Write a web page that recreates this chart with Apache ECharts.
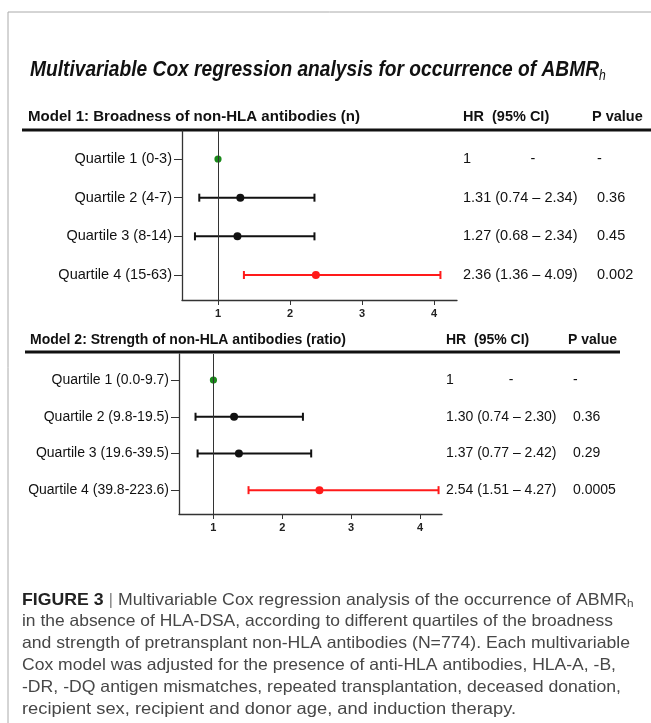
<!DOCTYPE html>
<html>
<head>
<meta charset="utf-8">
<script src="https://cdn.jsdelivr.net/npm/echarts@6/dist/echarts.min.js"></script>
<style>
  html, body { margin: 0; padding: 0; background: #fff; }
  #main { width: 651px; height: 723px; }
</style>
</head>
<body>
<div id="main"></div>
<script>
// ---- data ----
const labels1 = ['Quartile 1 (0-3)', 'Quartile 2 (4-7)', 'Quartile 3 (8-14)', 'Quartile 4 (15-63)'];
const hr1 = [1, 1.31, 1.27, 2.36];
const lo1 = [null, 0.74, 0.68, 1.36];
const hi1 = [null, 2.34, 2.34, 4.09];
const p1 = ['-', '0.36', '0.45', '0.002'];

const labels2 = ['Quartile 1 (0.0-9.7)', 'Quartile 2 (9.8-19.5)', 'Quartile 3 (19.6-39.5)', 'Quartile 4 (39.8-223.6)'];
const hr2 = [1, 1.30, 1.37, 2.54];
const lo2 = [null, 0.74, 0.77, 1.51];
const hi2 = [null, 2.30, 2.42, 4.27];
const p2 = ['-', '0.36', '0.29', '0.0005'];

const xTicks = [1, 2, 3, 4];
const rowColors = ['#1a8a1a', '#111', '#111', '#ff1a1a'];

const FAMILY = "'Liberation Sans', Arial, Helvetica, sans-serif";

// measure text so narrow/condensed type can be squeezed to the original widths
const ctx = document.createElement('canvas').getContext('2d');
function textWidth(t, size, weight, style) {
    ctx.font = (style || 'normal') + ' ' + (weight || 'normal') + ' ' + size + 'px ' + FAMILY;
    return ctx.measureText(t).width;
}

function fittedRuns(runs, x0, y, width) {
    let total = 0;
    runs.forEach(r => { if (!r.sub) total += textWidth(r.text, r.size, r.weight, r.style); });
    const sx = width / total;
    let x = x0;
    return runs.map(r => {
        const w = textWidth(r.text, r.size, r.weight, r.style);
        const el = {
            type: 'text', x: x, y: y + (r.dy || 0), scaleX: sx, silent: true,
            style: {
                text: r.text, x: 0, y: 0, fontSize: r.size, fontWeight: r.weight || 'normal',
                fontStyle: r.style || 'normal', fontFamily: FAMILY, fill: r.color || '#111',
                verticalAlign: 'middle', align: 'left'
            }
        };
        x += w * sx;
        return el;
    });
}

function plainText(text, x, y, size, weight, align) {
    return {
        type: 'text', x: x, y: y, silent: true,
        style: {
            text: text, fontSize: size, fontWeight: weight || 'normal', fontFamily: FAMILY,
            fill: '#111', verticalAlign: 'middle', align: align || 'left'
        }
    };
}

function hline(x1, x2, y, w, color) {
    return { type: 'line', silent: true, shape: { x1: x1, y1: y, x2: x2, y2: y }, style: { stroke: color, lineWidth: w } };
}

// one forest row: CI whiskers, point, and its table cells
function makeRender(lo, hi, hr, p, cols, fontSize) {
    return function (params, api) {
        const i = params.dataIndex;
        const row = api.value(3);
        const c = api.coord([api.value(0), row]);
        const color = rowColors[i];
        const kids = [];
        if (lo[i] != null) {
            const a = api.coord([api.value(1), row]);
            const b = api.coord([api.value(2), row]);
            kids.push({ type: 'line', shape: { x1: a[0], y1: a[1], x2: b[0], y2: b[1] }, style: { stroke: color, lineWidth: 2 } });
            kids.push({ type: 'line', shape: { x1: a[0], y1: a[1] - 4, x2: a[0], y2: a[1] + 4 }, style: { stroke: color, lineWidth: 2 } });
            kids.push({ type: 'line', shape: { x1: b[0], y1: b[1] - 4, x2: b[0], y2: b[1] + 4 }, style: { stroke: color, lineWidth: 2 } });
        }
        kids.push({ type: 'circle', shape: { cx: c[0], cy: c[1], r: lo[i] != null ? 4 : 3.6 }, style: { fill: color } });

        const ts = { fontSize: fontSize, fontFamily: FAMILY, fill: '#111', verticalAlign: 'middle' };
        if (lo[i] == null) {
            kids.push({ type: 'text', style: Object.assign({ text: String(hr[i]), x: cols.hr, y: c[1], align: 'left' }, ts) });
            kids.push({ type: 'text', style: Object.assign({ text: '-', x: cols.dash, y: c[1], align: 'center' }, ts) });
        } else {
            const s = hr[i].toFixed(2) + ' (' + lo[i].toFixed(2) + ' \u2013 ' + hi[i].toFixed(2) + ')';
            kids.push({ type: 'text', style: Object.assign({ text: s, x: cols.hr, y: c[1], align: 'left' }, ts) });
        }
        kids.push({ type: 'text', style: Object.assign({ text: p[i], x: cols.p, y: c[1], align: 'left' }, ts) });
        return { type: 'group', children: kids };
    };
}

function seriesData(hr, lo, hi) {
    return hr.map((v, i) => [v, lo[i] == null ? v : lo[i], hi[i] == null ? v : hi[i], i + 1]);
}

function xAxisCfg(gi) {
    return {
        gridIndex: gi, type: 'value', min: 0.5, max: 4.32,
        axisLine: { show: true, onZero: false, lineStyle: { color: '#333', width: 1.3 } },
        axisTick: { show: true, length: 5, customValues: xTicks, lineStyle: { color: '#333', width: 1 } },
        axisLabel: { customValues: xTicks, fontSize: 11, fontWeight: 'bold', color: '#222', margin: 8, fontFamily: FAMILY },
        splitLine: { show: false }
    };
}

function yAxisCfg(gi, min, max, labels, size) {
    return {
        gridIndex: gi, type: 'value', inverse: true, min: min, max: max,
        axisLine: { show: true, onZero: false, lineStyle: { color: '#333', width: 1.3 } },
        axisTick: { show: true, length: 8, customValues: [1, 2, 3, 4], lineStyle: { color: '#333', width: 1 } },
        axisLabel: {
            customValues: [1, 2, 3, 4], fontSize: size, color: '#111', margin: 10, fontFamily: FAMILY,
            formatter: v => labels[Math.round(v) - 1]
        },
        splitLine: { show: false }
    };
}

const refLine = gi => ({
    type: 'line', xAxisIndex: gi, yAxisIndex: gi, data: [], z: 1,
    markLine: {
        silent: true, symbol: 'none', animation: false,
        lineStyle: { color: '#333', width: 1, type: 'solid' },
        label: { show: false },
        data: [{ xAxis: 1 }]
    }
});

const chart = echarts.init(document.getElementById('main'), null, { renderer: 'canvas' });

const graphics = [
    // frame of the figure panel
    hline(8, 651, 12, 1, '#aaa'),
    { type: 'line', silent: true, shape: { x1: 8, y1: 12, x2: 8, y2: 723 }, style: { stroke: '#aaa', lineWidth: 1 } },
    // header rules
    hline(22, 651, 130, 3, '#111'),
    hline(25, 620, 352, 3, '#111'),
    plainText('HR  (95% CI)', 463, 117, 14.5, 'bold'),
    plainText('P value', 592, 117, 14.5, 'bold'),
    plainText('HR  (95% CI)', 446, 340, 14, 'bold'),
    plainText('P value', 568, 340, 14, 'bold')
]
    .concat(fittedRuns([
        { text: 'Multivariable Cox regression analysis for occurrence of ABMR', size: 22, weight: 'bold', style: 'italic' },
        { text: 'h', size: 14, style: 'italic', dy: 6, sub: true }
    ], 30, 70, 569))
    .concat(fittedRuns([{ text: 'Model 1: Broadness of non-HLA antibodies (n)', size: 14.5, weight: 'bold' }], 28, 117, 332))
    .concat(fittedRuns([{ text: 'Model 2: Strength of non-HLA antibodies (ratio)', size: 14, weight: 'bold' }], 30, 340, 316));

// figure caption
const capY = 600, capStep = 21.8, capSize = 16.5, capColor = '#474747';
graphics.push(...fittedRuns([
    { text: 'FIGURE 3', size: capSize, weight: 'bold', color: '#222' },
    { text: ' | ', size: capSize, color: '#888' },
    { text: 'Multivariable Cox regression analysis of the occurrence of ABMR', size: capSize, color: capColor },
    { text: 'h', size: 11, color: capColor, dy: 4, sub: true }
], 22, capY, 605));
const capLines = [
    ['in the absence of HLA-DSA, according to different quartiles of the broadness', 591],
    ['and strength of pretransplant non-HLA antibodies (N=774). Each multivariable', 608],
    ['Cox model was adjusted for the presence of anti-HLA antibodies, HLA-A, -B,', 594],
    ['-DR, -DQ antigen mismatches, repeated transplantation, deceased donation,', 599],
    ['recipient sex, recipient and donor age, and induction therapy.', 494]
];
capLines.forEach((l, k) => {
    graphics.push(...fittedRuns([{ text: l[0], size: capSize, color: capColor }], 22, capY + capStep * (k + 1), l[1]));
});

chart.setOption({
    backgroundColor: '#fff',
    animation: false,
    grid: [
        { left: 182, top: 131, width: 275, height: 169 },
        { left: 179, top: 354, width: 263, height: 160 }
    ],
    xAxis: [xAxisCfg(0), xAxisCfg(1)],
    yAxis: [
        yAxisCfg(0, 0.276, 4.646, labels1, 14.5),
        yAxisCfg(1, 0.29, 4.65, labels2, 14)
    ],
    series: [
        refLine(0),
        refLine(1),
        {
            type: 'custom', xAxisIndex: 0, yAxisIndex: 0, z: 3, clip: false,
            data: seriesData(hr1, lo1, hi1),
            renderItem: makeRender(lo1, hi1, hr1, p1, { hr: 463, dash: 533, p: 597 }, 14.5)
        },
        {
            type: 'custom', xAxisIndex: 1, yAxisIndex: 1, z: 3, clip: false,
            data: seriesData(hr2, lo2, hi2),
            renderItem: makeRender(lo2, hi2, hr2, p2, { hr: 446, dash: 511, p: 573 }, 14)
        }
    ],
    graphic: graphics
});
</script>
</body>
</html>
